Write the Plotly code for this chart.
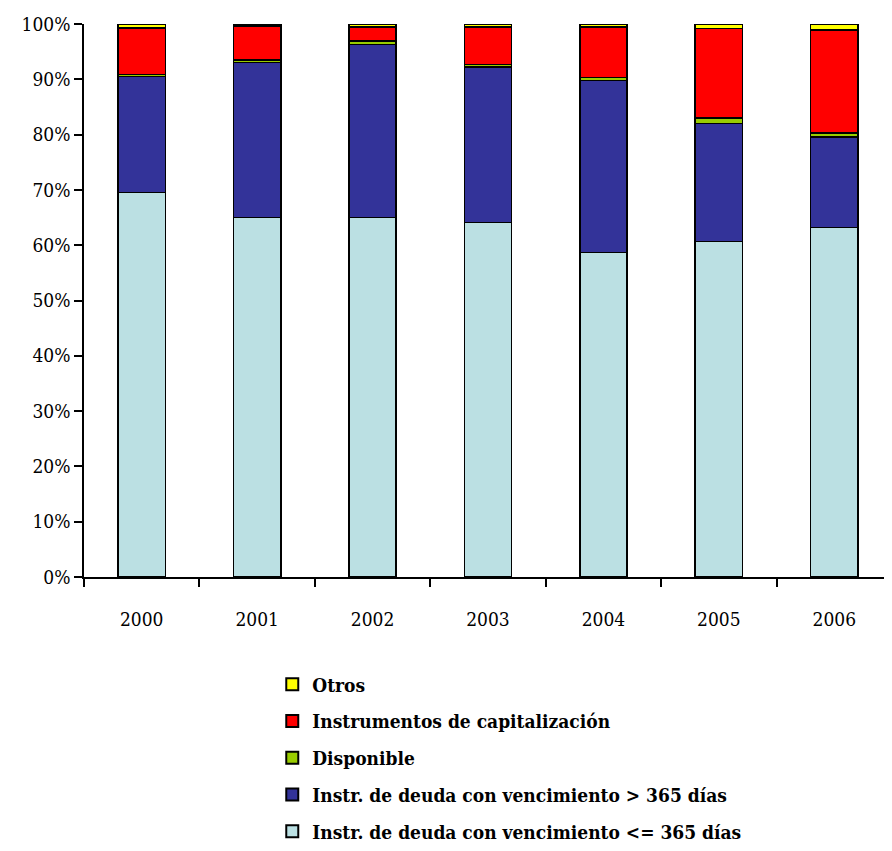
import plotly.graph_objects as go

years = ['2000', '2001', '2002', '2003', '2004', '2005', '2006']

# participation (%) by instrument type, bottom to top of each stack
deuda_corto = [69.5, 65.0, 65.0, 64.1, 58.7, 60.7, 63.2]
deuda_largo = [21.0, 28.0, 31.3, 28.1, 31.1, 21.3, 16.4]
disponible = [0.4, 0.5, 0.6, 0.5, 0.5, 1.0, 0.7]
capitalizacion = [8.4, 6.1, 2.6, 6.8, 9.2, 16.2, 18.6]
otros = [0.7, 0.4, 0.5, 0.5, 0.5, 0.8, 1.1]

series = [
    ('Instr. de deuda con vencimiento <= 365 días', deuda_corto, '#BBE0E3'),
    ('Instr. de deuda con vencimiento > 365 días', deuda_largo, '#333399'),
    ('Disponible', disponible, '#99CC00'),
    ('Instrumentos de capitalización', capitalizacion, '#FF0000'),
    ('Otros', otros, '#FFFF00'),
]

serif = 'DejaVu Serif Condensed, DejaVu Serif'

fig = go.Figure()
for i, (name, vals, color) in enumerate(series):
    fig.add_trace(go.Bar(x=years, y=[v / 100 for v in vals], name=name, legendgroup=name,
                         legendrank=len(series) - i,
                         marker=dict(color=color, line=dict(color='black', width=1.5))))

fig.update_layout(
    barmode='stack',
    bargap=0.59,
    width=884, height=843,
    margin=dict(l=76, r=0, t=16, b=270),
    plot_bgcolor='white',
    paper_bgcolor='white',
    font=dict(family=serif, color='black', size=20),
    legend=dict(
        traceorder='grouped',
        orientation='v',
        x=0.233, xanchor='left',
        y=-0.16, yanchor='top',
        font=dict(family=serif, size=19, color='black', weight='bold'),
        itemsizing='constant',
        tracegroupgap=9,
        bgcolor='rgba(0,0,0,0)',
    ),
)

fig.update_yaxes(
    range=[0, 1], tickformat='.0%', dtick=0.1,
    showgrid=False, zeroline=False, automargin=False,
    showline=True, linecolor='black', linewidth=1.5,
    ticks='outside', ticklen=8, tickcolor='black', tickwidth=1.5,
    tickfont=dict(family=serif, size=19),
)
fig.update_xaxes(
    showgrid=False, automargin=False,
    showline=True, linecolor='black', linewidth=1.5,
    ticks='outside', ticklen=8, tickcolor='black', tickwidth=1.5,
    tickson='boundaries', ticklabelstandoff=24,
    tickfont=dict(family=serif, size=19),
)

fig.write_html('out.html')
